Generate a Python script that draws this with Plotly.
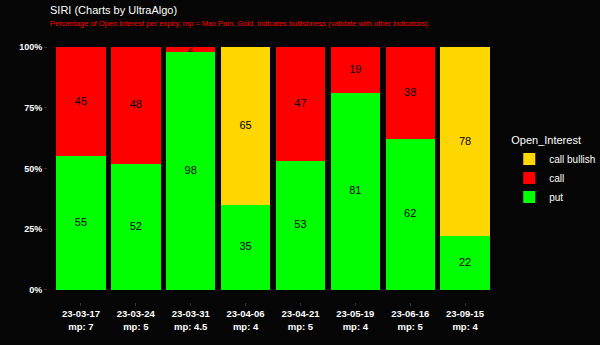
import plotly.graph_objects as go

expiries = ["23-03-17", "23-03-24", "23-03-31", "23-04-06", "23-04-21", "23-05-19", "23-06-16", "23-09-15"]
max_pain = ["7", "5", "4.5", "4", "5", "4", "5", "4"]
put = [55, 52, 98, 35, 53, 81, 62, 22]
call = [45, 48, 2, 0, 47, 19, 38, 0]
call_bullish = [0, 0, 0, 65, 0, 0, 0, 78]

categories = [f"<b>{d}</b><br><b>mp: {m}</b>" for d, m in zip(expiries, max_pain)]

series = [
    ("put", put, "#00FF00"),
    ("call", call, "#FF0000"),
    ("call bullish", call_bullish, "#FFD700"),
]

fig = go.Figure()
base = [0] * len(categories)
lx, ly, lt = [], [], []
for name, vals, color in series:
    fig.add_trace(go.Bar(
        x=categories, y=[v / 100 for v in vals], name=name,
        marker=dict(color=color, line=dict(width=0)),
        width=0.9,
    ))
    for i, v in enumerate(vals):
        if v > 0:
            lx.append(categories[i])
            ly.append((base[i] + v / 2) / 100)
            lt.append(str(v))
        base[i] += v

fig.add_trace(go.Scatter(
    x=lx, y=ly, text=lt, mode="text", showlegend=False, hoverinfo="skip",
    textfont=dict(color="black", size=11, family="Liberation Sans"),
))

H, T, B = 345, 35, 43
plot_h = H - T - B


def paper_y(py):
    return (H - B - py) / plot_h


fig.add_annotation(
    text="SIRI (Charts by UltraAlgo)", xref="paper", yref="paper",
    x=0, y=paper_y(10), xanchor="left", yanchor="middle", showarrow=False,
    font=dict(size=11, color="white"),
)
fig.add_annotation(
    text="Percentage of Open Interest per expiry, mp = Max Pain. Gold  indicates bullishness "
         "(validate with other indicators).",
    xref="paper", yref="paper",
    x=0, y=paper_y(24), xanchor="left", yanchor="middle", showarrow=False,
    font=dict(size=7.5, color="#FF0000"),
)

fig.update_layout(
    barmode="stack",
    width=600, height=H,
    paper_bgcolor="#050505", plot_bgcolor="#050505",
    margin=dict(l=48, r=102, t=T, b=B, autoexpand=False),
    font=dict(family="Liberation Sans", color="white"),
    legend=dict(
        title=dict(text="Open_Interest", font=dict(size=11, color="white")),
        traceorder="reversed",
        x=1.025, xanchor="left", y=0.49, yanchor="middle",
        font=dict(size=10, color="white"),
        bgcolor="rgba(0,0,0,0)",
        tracegroupgap=0,
        itemwidth=30,
    ),
)

fig.update_xaxes(
    range=[-0.6, 7.6], showgrid=False, zeroline=False,
    ticks="outside", ticklen=3, tickcolor="#333333",
    tickfont=dict(size=9.5, color="white"),
)
fig.update_yaxes(
    range=[-0.05, 1.05], showgrid=False, zeroline=False,
    tickvals=[0, 0.25, 0.5, 0.75, 1.0],
    ticktext=["<b>0%</b>", "<b>25%</b>", "<b>50%</b>", "<b>75%</b>", "<b>100%</b>"],
    ticks="outside", ticklen=3, tickcolor="#333333",
    tickfont=dict(size=9, color="white"),
)

fig.write_html("out.html")
